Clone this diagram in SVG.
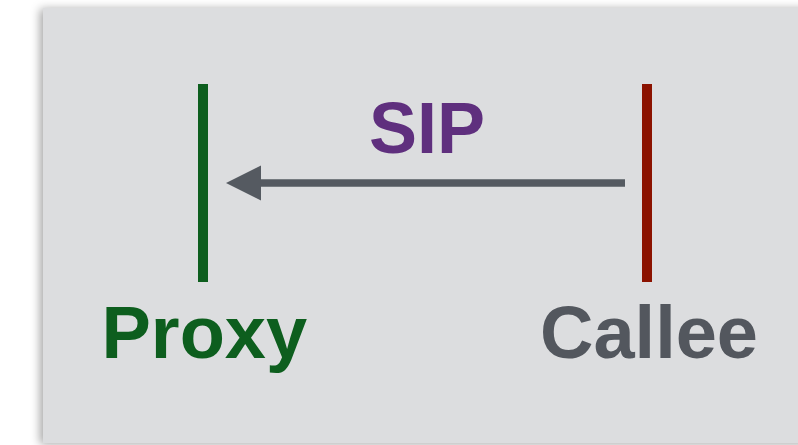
<svg xmlns="http://www.w3.org/2000/svg" width="798" height="445" viewBox="0 0 798 445">
<defs>
<filter id="sh" x="-10%" y="-10%" width="120%" height="120%">
<feDropShadow dx="-3" dy="1" stdDeviation="5" flood-color="#000" flood-opacity="0.35"/>
</filter>
<style>
.lbl{font-family:"Liberation Sans",Arial,sans-serif;font-weight:bold;font-size:74px}
</style>
</defs>
<rect x="0" y="0" width="798" height="445" fill="#ffffff"/>
<rect x="43" y="8" width="780" height="435" fill="#dcdddf" filter="url(#sh)"/>
<g id="proxy">
<rect x="198" y="84" width="10" height="198" fill="#0d5e1e"/>
<text class="lbl" x="101.5" y="358" fill="#0d5e1e">Proxy</text>
</g>
<g id="callee">
<rect x="642" y="84" width="10" height="198" fill="#8b1200"/>
<text class="lbl" x="540" y="358" fill="#53575e">Callee</text>
</g>
<g id="connectors">
<line x1="625" y1="183" x2="258" y2="183" stroke="#555a61" stroke-width="7.5"/>
<path d="M226,183 L261,165.5 L261,200.5 Z" fill="#555a61"/>
<text x="427" y="153" text-anchor="middle" fill="#5f2f7e" style="font-family:'Liberation Sans',Arial,sans-serif;font-weight:bold;font-size:72px">SIP</text>
</g>
</svg>
